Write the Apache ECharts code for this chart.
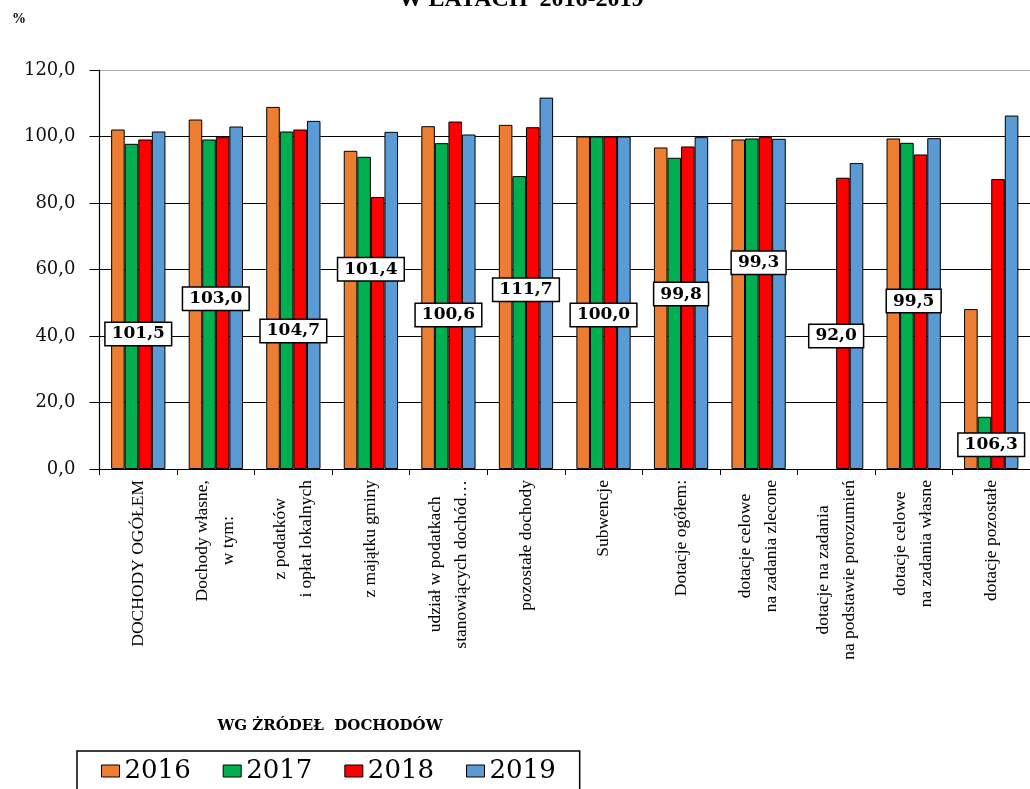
<!DOCTYPE html>
<html>
<head>
<meta charset="utf-8">
<script src="https://cdn.jsdelivr.net/npm/echarts@6/dist/echarts.min.js"></script>
<style>
html,body{margin:0;padding:0;background:#fff;}
#chart{width:1030px;height:789px;}
</style>
</head>
<body>
<div id="chart"></div>
<script>
const categories = [
  'DOCHODY OGÓŁEM',
  'Dochody własne,\nw tym:',
  'z podatków\ni opłat lokalnych',
  'z majątku gminy',
  'udział w podatkach\nstanowiących dochód…',
  'pozostałe dochody',
  'Subwencje',
  'Dotacje ogółem:',
  'dotacje celowe\nna zadania zlecone',
  'dotacje na zadania\nna podstawie porozumień',
  'dotacje celowe\nna zadania własne',
  'dotacje pozostałe'
];
const seriesNames = ['2016', '2017', '2018', '2019'];
const values2016 = [102.1, 105.1, 108.9, 95.7, 103.1, 103.5, 100.0, 96.7, 99.1, null, 99.4, 48.1];
const values2017 = [97.8, 99.1, 101.5, 93.9, 98.0, 88.1, 100.0, 93.6, 99.4, null, 98.1, 15.7];
const values2018 = [99.1, 99.8, 102.1, 81.8, 104.5, 102.8, 100.0, 97.0, 99.8, 87.6, 94.6, 87.2];
const values2019 = [101.5, 103.0, 104.7, 101.4, 100.6, 111.7, 100.0, 99.8, 99.3, 92.0, 99.5, 106.3];
const yTicks = [0, 20, 40, 60, 80, 100, 120];

// layout only: vertical placement (in axis units) of the 2019 value boxes
const labelBoxLevel = [40.6, 51.2, 41.5, 60.1, 46.3, 53.9, 46.3, 52.6, 62.0, 40.0, 50.5, 7.3];

const colors = ['#ED7D31', '#00B050', '#FF0000', '#5B9BD5'];
const fmt = v => v.toFixed(1).replace('.', ',');

const chart = echarts.init(document.getElementById('chart'), null, {renderer: 'canvas'});
const allValues = [values2016, values2017, values2018, values2019];

const barSeries = seriesNames.map((name, i) => ({
  name: name,
  type: 'bar',
  data: allValues[i],
  barGap: '0%',
  barCategoryGap: '30%',
  itemStyle: {color: colors[i], borderColor: '#000', borderWidth: 1},
  z: 2
}));

const option = {
  animation: false,
  backgroundColor: '#fff',
  grid: {left: 99.5, top: 70, height: 399, width: 937, containLabel: false},
  graphic: [
    {type: 'text', style: {x: 521, y: 12, text: 'W LATACH  2016-2019', textAlign: 'center', textVerticalAlign: 'bottom',
      font: 'bold 24px "Liberation Serif"', fill: '#000'}, z: 10},
    {type: 'text', style: {x: 19, y: 19, text: '%', textAlign: 'center', textVerticalAlign: 'middle',
      font: 'bold 14px "Liberation Serif"', fill: '#000'}},
    {type: 'text', style: {x: 330, y: 726, text: 'WG ŻRÓDEŁ  DOCHODÓW', textAlign: 'center', textVerticalAlign: 'middle',
      font: 'bold 15px "DejaVu Serif"', fill: '#000'}}
  ],
  legend: {
    data: seriesNames,
    left: 77, top: 751,
    orient: 'horizontal',
    borderColor: '#000', borderWidth: 1.5,
    padding: [7, 24, 12, 24],
    itemWidth: 18, itemHeight: 12, itemGap: 32,
    icon: 'rect',
    itemStyle: {borderColor: '#000', borderWidth: 1},
    textStyle: {fontFamily: 'DejaVu Serif', fontSize: 26, color: '#000'}
  },
  xAxis: {
    type: 'category',
    data: categories,
    axisLine: {lineStyle: {color: '#000', width: 1.2}},
    axisTick: {show: true, length: 6, lineStyle: {color: '#000'}},
    axisLabel: {
      interval: 0, rotate: 90, margin: 11,
      formatter: v => v.split('\n').map(l => '{c|' + l + '}').join('\n'),
      rich: {c: {align: 'center', fontFamily: 'Liberation Serif', fontSize: 17.5, lineHeight: 26, color: '#000'}}
    }
  },
  yAxis: {
    type: 'value', min: 0, max: 120, interval: 20,
    axisLine: {show: true, lineStyle: {color: '#000', width: 1.2}},
    axisTick: {show: true, length: 10, lineStyle: {color: '#000'}},
    axisLabel: {margin: 24, formatter: v => yTicks.includes(v) ? fmt(v) : '', fontFamily: 'DejaVu Serif', fontSize: 18, color: '#111'},
    splitLine: {show: true, lineStyle: {color: ['#000', '#000', '#000', '#000', '#000', '#000', '#aaa'], width: 1.2}}
  },
  series: barSeries.concat([{
    type: 'scatter',
    name: 'labels',
    data: labelBoxLevel.map((lv, i) => [i, lv]),
    symbolSize: 0,
    itemStyle: {color: 'rgba(0,0,0,0)', opacity: 1},
    z: 5,
    label: {
      show: true, position: 'inside', opacity: 1,
      formatter: p => fmt(values2019[p.dataIndex]),
      backgroundColor: '#fff', borderColor: '#000', borderWidth: 1.5,
      textBorderWidth: 0,
      padding: [3, 6, 2, 6],
      fontFamily: 'DejaVu Serif', fontWeight: 'bold', fontSize: 17, color: '#000'
    },
    emphasis: {disabled: true}
  }])
};
chart.setOption(option);
</script>
</body>
</html>
